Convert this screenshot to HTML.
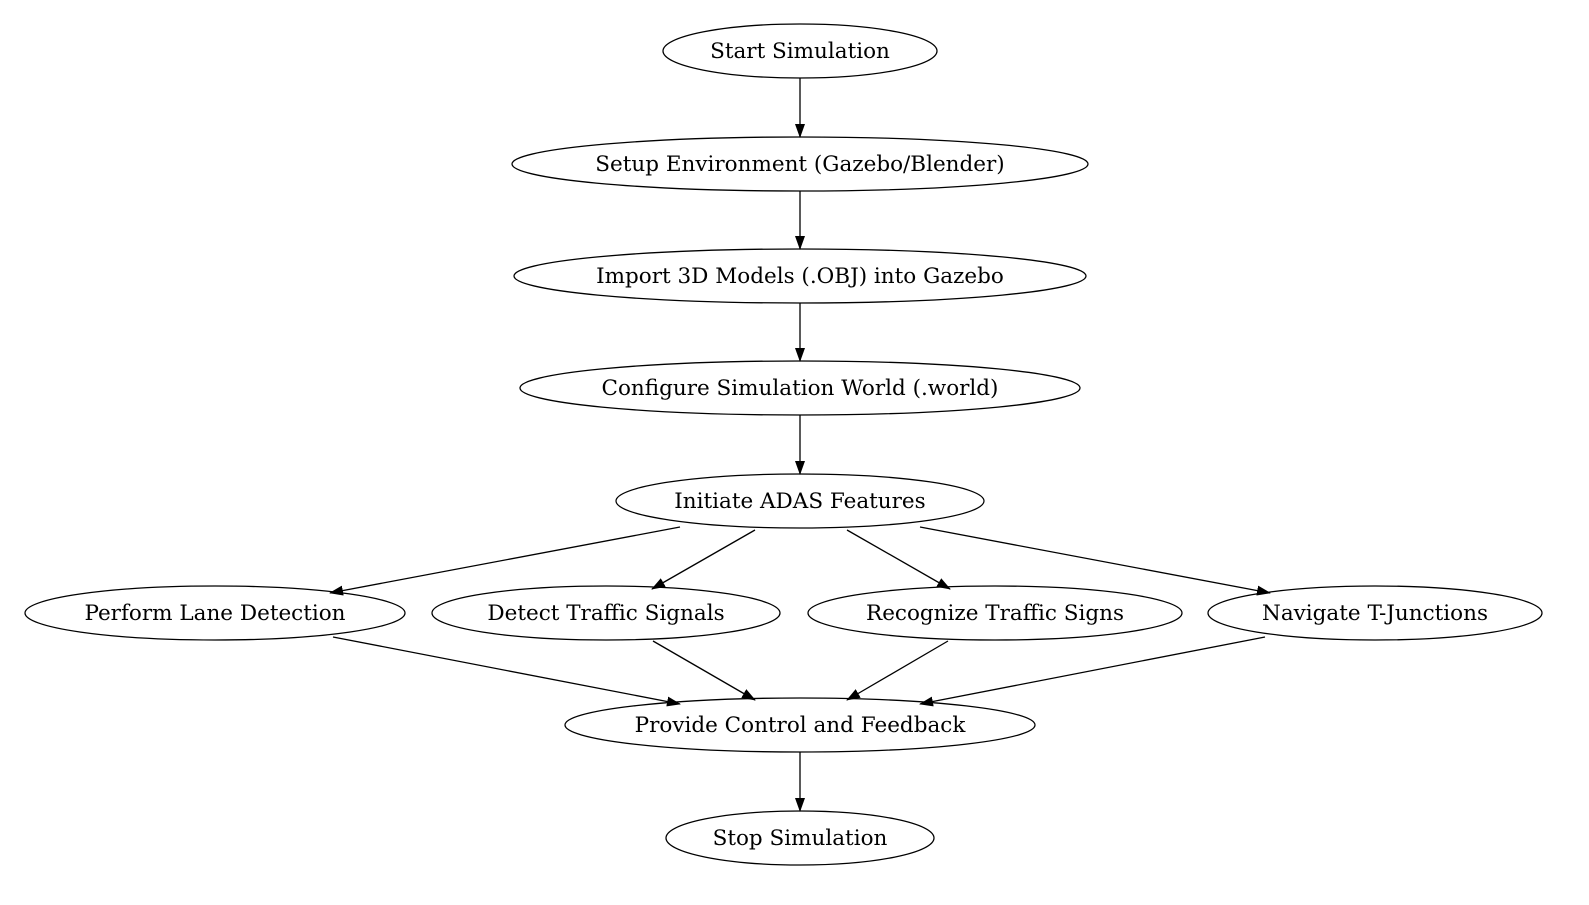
<!DOCTYPE html>
<html><head><meta charset="utf-8"><style>
html,body{margin:0;padding:0;background:#fff;}
svg{display:block;}
text{font-family:"DejaVu Serif","Liberation Serif",serif;font-size:21.5px;fill:#000;}
</style></head><body>
<svg width="1589" height="905" viewBox="0 0 1589 905" xmlns="http://www.w3.org/2000/svg">
<defs>
<marker id="a" markerWidth="14" markerHeight="10" refX="13" refY="5" orient="auto" markerUnits="userSpaceOnUse">
<path d="M0,0 L14,5 L0,10 Z" fill="#000"/>
</marker>
</defs>
<g fill="none" stroke="#000" stroke-width="1.3">
<ellipse cx="800" cy="51" rx="137" ry="27"/>
<ellipse cx="800" cy="164" rx="288" ry="27"/>
<ellipse cx="800" cy="276" rx="286" ry="27"/>
<ellipse cx="800" cy="388" rx="280" ry="27"/>
<ellipse cx="800" cy="501" rx="184" ry="27"/>
<ellipse cx="215" cy="613" rx="190" ry="27"/>
<ellipse cx="606" cy="613" rx="174" ry="27"/>
<ellipse cx="995" cy="613" rx="187" ry="27"/>
<ellipse cx="1375" cy="613" rx="167" ry="27"/>
<ellipse cx="800" cy="725" rx="235" ry="27"/>
<ellipse cx="800" cy="838" rx="134" ry="27"/>
</g>
<g stroke="#000" stroke-width="1.3" marker-end="url(#a)">
<line x1="800" y1="78" x2="800" y2="137"/>
<line x1="800" y1="191" x2="800" y2="249"/>
<line x1="800" y1="303" x2="800" y2="361"/>
<line x1="800" y1="415" x2="800" y2="474"/>
<line x1="680" y1="527" x2="330" y2="593"/>
<line x1="755" y1="530" x2="652" y2="589"/>
<line x1="847" y1="530" x2="950" y2="589"/>
<line x1="920" y1="527" x2="1270" y2="593"/>
<line x1="333" y1="637" x2="680" y2="704"/>
<line x1="653" y1="641" x2="755" y2="700"/>
<line x1="948" y1="641" x2="847" y2="700"/>
<line x1="1265" y1="637" x2="920" y2="704"/>
<line x1="800" y1="752" x2="800" y2="811"/>
</g>
<g text-anchor="middle">
<text x="800" y="58">Start Simulation</text>
<text x="800" y="171">Setup Environment (Gazebo/Blender)</text>
<text x="800" y="283">Import 3D Models (.OBJ) into Gazebo</text>
<text x="800" y="395">Configure Simulation World (.world)</text>
<text x="800" y="508">Initiate ADAS Features</text>
<text x="215" y="620">Perform Lane Detection</text>
<text x="606" y="620">Detect Traffic Signals</text>
<text x="995" y="620">Recognize Traffic Signs</text>
<text x="1375" y="620">Navigate T-Junctions</text>
<text x="800" y="732">Provide Control and Feedback</text>
<text x="800" y="845">Stop Simulation</text>
</g>
</svg>
</body></html>
